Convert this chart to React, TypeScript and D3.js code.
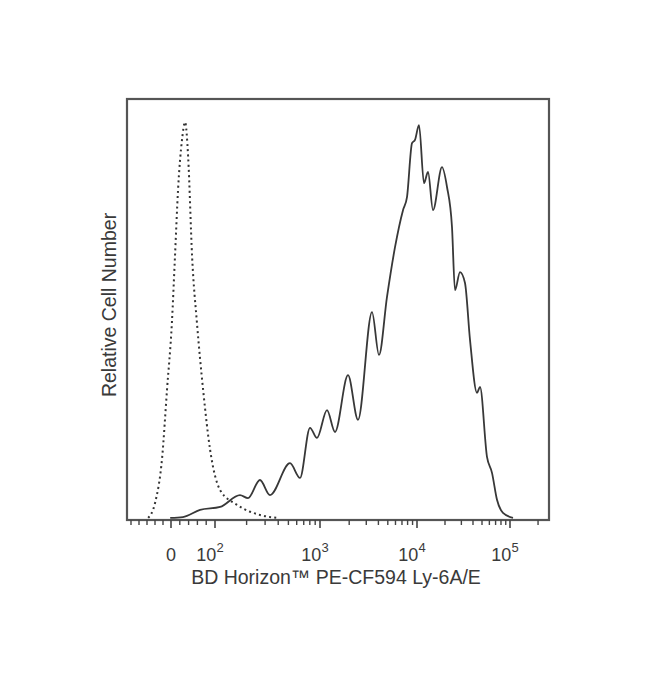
import React from "react";
import * as d3 from "d3";

// Solid histogram (stained sample): fluorescence value, relative count
const solidX = [-2, 27, 66, 112, 173, 206, 268, 334, 518, 645, 803, 936, 1181, 1427, 1944, 2465, 3437, 4057, 4906, 5933, 7173, 7886, 8882, 9537, 10508, 11893, 13133, 14859, 18570, 21019, 23780, 25623, 29000, 32817, 37150, 44180, 47580, 56570, 64050, 72480, 84060, 107700];
const solidY = [0.5, 0.7, 2.4, 3.1, 5.9, 5.2, 9.5, 5.9, 13.5, 10.0, 21.9, 19.5, 26.1, 20.9, 34.4, 23.8, 49.4, 39.2, 53.0, 64.8, 73.6, 76.7, 89.5, 90.3, 93.8, 80.0, 82.7, 73.6, 83.8, 79.1, 69.6, 54.6, 58.9, 56.3, 42.8, 30.2, 31.6, 15.0, 11.2, 4.8, 1.7, 0.5];

// Dotted histogram (isotype control)
const ctrlX = [-57, -40, -22, -10, 2, 9, 16, 25, 32, 39, 48, 59, 73, 89, 112, 162, 268, 390];
const ctrlY = [0.5, 4.0, 15.0, 30.9, 46.8, 62.5, 78.4, 90.3, 94.5, 86.2, 62.5, 46.8, 30.9, 16.6, 7.1, 3.6, 1.2, 0.5];

// Axis ticks
const majorTicks = [0, 100, 1000, 10000, 100000];
const majorLabels = [
  { base: "0", exp: "" },
  { base: "10", exp: "2" },
  { base: "10", exp: "3" },
  { base: "10", exp: "4" },
  { base: "10", exp: "5" },
];
const linearMinor = [-100, -80, -60, -40, -20, 20, 40, 60, 80];
const decades = [100, 1000, 10000, 100000];
const logMultipliers = [2, 3, 4, 5, 6, 7, 8, 9];

const xLabel = "BD Horizon™ PE-CF594 Ly-6A/E";
const yLabel = "Relative Cell Number";

// biexponential-like display transform
const LN10 = Math.log(10);
const g = (v: number) => (v >= 100 ? Math.log10(v) : 2 + (v - 100) / (100 * LN10));

const X_ANCHORS = [-110, 0, 100, 1000, 10000, 100000, 262144];
const X_PX = [127, 171, 215, 320, 417, 510, 549];

export default function App() {
  const left = 127, right = 549, top = 99, bottom = 520;
  const xs = d3.scaleLinear().domain(X_ANCHORS.map(g)).range(X_PX).clamp(true);
  const x = (v: number) => xs(g(v));
  const y = d3.scaleLinear().domain([0, 100]).range([bottom, top]);

  const line = d3
    .line<[number, number]>()
    .x((d) => x(d[0]))
    .y((d) => y(d[1]))
    .curve(d3.curveMonotoneX);

  const solid = line(solidX.map((v, i) => [v, solidY[i]] as [number, number])) || "";
  const ctrl = line(ctrlX.map((v, i) => [v, ctrlY[i]] as [number, number])) || "";

  const minor: number[] = [...linearMinor];
  decades.forEach((d) => logMultipliers.forEach((m) => { if (m * d <= 262144) minor.push(m * d); }));

  const font = "Liberation Sans, Arial, sans-serif";
  const textColor = "#3a3a3a";

  return (
    <svg width={650} height={685} style={{ position: "absolute", left: 0, top: 0, background: "#fff" }}>
      <rect x={0} y={0} width={650} height={685} fill="#fff" />
      <path d={ctrl} fill="none" stroke="#333" strokeWidth={2} strokeDasharray="2,3.2" />
      <path d={solid} fill="none" stroke="#383838" strokeWidth={1.8} />
      <rect x={left} y={top} width={right - left} height={bottom - top} fill="none" stroke="#555" strokeWidth={2.2} />
      {minor.map((v, i) => (
        <line key={"mi" + i} x1={x(v)} x2={x(v)} y1={bottom} y2={bottom + 5} stroke="#444" strokeWidth={1.4} />
      ))}
      {majorTicks.map((v, i) => (
        <line key={"ma" + i} x1={x(v)} x2={x(v)} y1={bottom} y2={bottom + 8} stroke="#444" strokeWidth={1.6} />
      ))}
      {majorTicks.map((v, i) => (
        <text key={"lb" + i} x={x(v) - (majorLabels[i].exp ? 5 : 0)} y={561} fontSize={18} fontFamily={font} fill={textColor} textAnchor="middle">
          {majorLabels[i].base}
          {majorLabels[i].exp && (
            <tspan fontSize={13} dy={-9}>{majorLabels[i].exp}</tspan>
          )}
        </text>
      ))}
      <text x={336} y={584} fontSize={19.5} fontFamily={font} fill={textColor} textAnchor="middle">
        {xLabel}
      </text>
      <text
        transform={`translate(116, 305) rotate(-90)`}
        fontSize={19.5}
        fontFamily={font}
        fill={textColor}
        textAnchor="middle"
      >
        {yLabel}
      </text>
    </svg>
  );
}
